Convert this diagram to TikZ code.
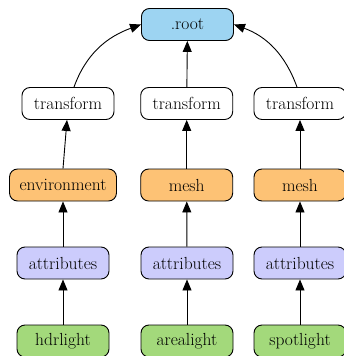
\documentclass[tikz,border=0pt]{standalone}
\usepackage{fontspec}
\usetikzlibrary{arrows.meta}
\definecolor{rootblue}{HTML}{9DD4F2}
\definecolor{xfwhite}{HTML}{FFFFFF}
\definecolor{shapeorange}{HTML}{FDC275}
\definecolor{attrlav}{HTML}{CCCCFC}
\definecolor{lightgreen}{HTML}{A3D97B}
\begin{document}
\begin{tikzpicture}[x=1pt,y=-1pt,
  box/.style={draw,rounded corners=8pt,line width=0.9pt,minimum width=92pt,
    minimum height=32pt,inner xsep=10pt,font=\fontsize{17.5}{20}\selectfont},
  edge/.style={line width=0.9pt,-{Triangle[length=11pt,width=9pt]}}]
\useasboundingbox (0,0) rectangle (344,356);

\node[box,fill=rootblue] (root) at (187.5,24.5) {.root};

\node[box,fill=xfwhite] (tf1) at (68,103.5) {transform};
\node[box,fill=xfwhite] (tf2) at (186.7,103.5) {transform};
\node[box,fill=xfwhite] (tf3) at (300,103.5) {transform};

\node[box,fill=shapeorange] (env) at (63,185) {environment};
\node[box,fill=shapeorange] (mesh2) at (186.7,185) {mesh};
\node[box,fill=shapeorange] (mesh3) at (300,185) {mesh};

\node[box,fill=attrlav] (attr1) at (63,263) {attributes};
\node[box,fill=attrlav] (attr2) at (187,263) {attributes};
\node[box,fill=attrlav] (attr3) at (300,263) {attributes};

\node[box,fill=lightgreen] (hdr) at (63,341) {hdrlight};
\node[box,fill=lightgreen] (area) at (187,341) {arealight};
\node[box,fill=lightgreen] (spot) at (300,341) {spotlight};

\draw[edge] ([xshift=6pt]tf1.north) to[out=70,in=200] (root.west);
\draw[edge] (tf2) -- (root);
\draw[edge] ([xshift=-3pt]tf3.north) to[out=110,in=340] (root.east);

\draw[edge] (env.north) -- ([xshift=-1pt]tf1.south);
\draw[edge] (mesh2) -- (tf2);
\draw[edge] (mesh3) -- (tf3);

\draw[edge] (attr1) -- (env);
\draw[edge] (attr2) -- (mesh2);
\draw[edge] (attr3) -- (mesh3);

\draw[edge] (hdr) -- (attr1);
\draw[edge] (area) -- (attr2);
\draw[edge] (spot) -- (attr3);
\end{tikzpicture}
\end{document}
